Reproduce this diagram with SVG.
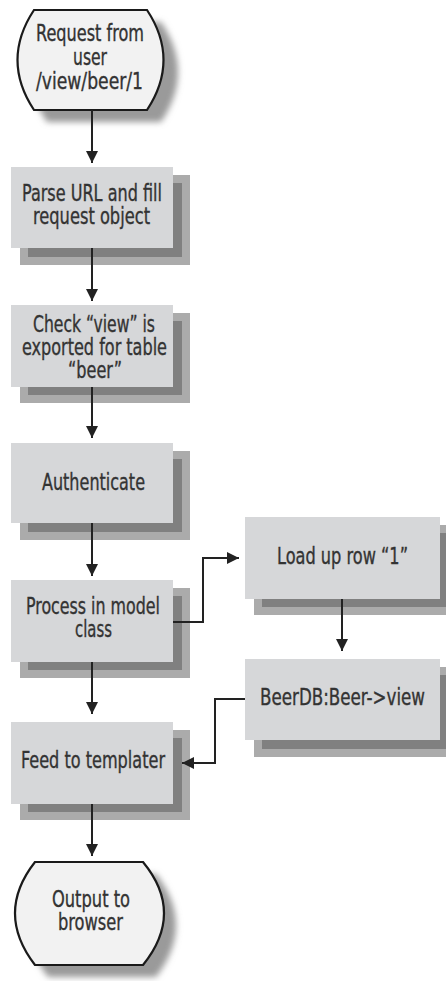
<svg xmlns="http://www.w3.org/2000/svg" width="446" height="981" viewBox="0 0 446 981">
<style>
.box{fill:#d6d7d9}
.sh{fill:#808080;stroke:#ababab;stroke-width:8}
.term{fill:#f2f2f2;stroke:#1a1a1a;stroke-width:2.2}
.tsh{fill:#9a9a9a;filter:url(#blur)}
.t{font-family:"DejaVu Sans Condensed","Liberation Sans",sans-serif;font-size:23px;fill:#333;stroke:#333;stroke-width:0.35;text-anchor:start}
.c{fill:none;stroke:#222;stroke-width:2}
</style>
<defs>
<filter id="blur" x="-20%" y="-20%" width="140%" height="140%"><feGaussianBlur stdDeviation="3"/></filter>
<marker id="ah" viewBox="0 0 12 12" refX="12" refY="6" markerWidth="12" markerHeight="12" markerUnits="userSpaceOnUse" orient="auto"><path d="M0,0 L12,6 L0,12 Z" fill="#222"/></marker>
</defs>
<rect width="446" height="981" fill="#fff"/>

<g id="start">
<path class="tsh" d="M47,22 L161,22 Q195,72 161,122 L47,122 Q13,72 47,22 Z"/>
<path class="term" d="M34,10 L147,10 Q180,60 147,110 L34,110 Q1,60 34,10 Z"/>
<text class="t" x="36" y="41" textLength="108" lengthAdjust="spacingAndGlyphs">Request from</text>
<text class="t" x="73" y="65" textLength="34" lengthAdjust="spacingAndGlyphs">user</text>
<text class="t" x="36" y="89" textLength="107" lengthAdjust="spacingAndGlyphs">/view/beer/1</text>
</g>

<g id="parse">
<rect class="sh" x="24" y="179" width="162" height="82"/>
<rect class="box" x="11" y="167" width="162" height="81"/>
<text class="t" x="22" y="201" textLength="140" lengthAdjust="spacingAndGlyphs">Parse URL and fill</text>
<text class="t" x="33" y="224" textLength="117" lengthAdjust="spacingAndGlyphs">request object</text>
</g>

<g id="check">
<rect class="sh" x="24" y="317" width="162" height="82"/>
<rect class="box" x="11" y="305" width="162" height="82"/>
<text class="t" x="33" y="332" textLength="122" lengthAdjust="spacingAndGlyphs">Check “view” is</text>
<text class="t" x="22" y="355" textLength="145" lengthAdjust="spacingAndGlyphs">exported for table</text>
<text class="t" x="68" y="378" textLength="54" lengthAdjust="spacingAndGlyphs">“beer”</text>
</g>

<g id="auth">
<rect class="sh" x="24" y="455" width="162" height="81"/>
<rect class="box" x="11" y="443" width="162" height="80"/>
<text class="t" x="42" y="490" textLength="103" lengthAdjust="spacingAndGlyphs">Authenticate</text>
</g>

<g id="process">
<rect class="sh" x="24" y="592" width="162" height="82"/>
<rect class="box" x="11" y="580" width="162" height="82"/>
<text class="t" x="26" y="614" textLength="134" lengthAdjust="spacingAndGlyphs">Process in model</text>
<text class="t" x="75" y="637" textLength="37" lengthAdjust="spacingAndGlyphs">class</text>
</g>

<g id="load">
<rect class="sh" x="258" y="529" width="195" height="82"/>
<rect class="box" x="245" y="517" width="195" height="82"/>
<text class="t" x="277" y="564" textLength="131" lengthAdjust="spacingAndGlyphs">Load up row “1”</text>
</g>

<g id="beerdb">
<rect class="sh" x="258" y="671" width="195" height="82"/>
<rect class="box" x="245" y="659" width="195" height="81"/>
<text class="t" x="260" y="705" textLength="165" lengthAdjust="spacingAndGlyphs">BeerDB:Beer-&gt;view</text>
</g>

<g id="feed">
<rect class="sh" x="24" y="734" width="162" height="82"/>
<rect class="box" x="11" y="722" width="162" height="82"/>
<text class="t" x="21" y="768" textLength="144" lengthAdjust="spacingAndGlyphs">Feed to templater</text>
</g>

<g id="end">
<path class="tsh" d="M48,874 L156,874 Q196,925 156,977 L48,977 Q8,925 48,874 Z"/>
<path class="term" d="M35,862 L143,862 Q185,913 143,965 L35,965 Q-5,913 35,862 Z"/>
<text class="t" x="52" y="907" textLength="78" lengthAdjust="spacingAndGlyphs">Output to</text>
<text class="t" x="58" y="930" textLength="65" lengthAdjust="spacingAndGlyphs">browser</text>
</g>

<g id="connectors">
<path class="c" d="M92,110 V163" marker-end="url(#ah)"/>
<path class="c" d="M92,248 V301" marker-end="url(#ah)"/>
<path class="c" d="M92,387 V438" marker-end="url(#ah)"/>
<path class="c" d="M92,523 V576" marker-end="url(#ah)"/>
<path class="c" d="M92,662 V714" marker-end="url(#ah)"/>
<path class="c" d="M92,804 V856" marker-end="url(#ah)"/>
<path class="c" d="M173,622 H203 V558 H239" marker-end="url(#ah)"/>
<path class="c" d="M342,599 V651" marker-end="url(#ah)"/>
<path class="c" d="M245,699 H215 V763 H182" marker-end="url(#ah)"/>
</g>
</svg>
